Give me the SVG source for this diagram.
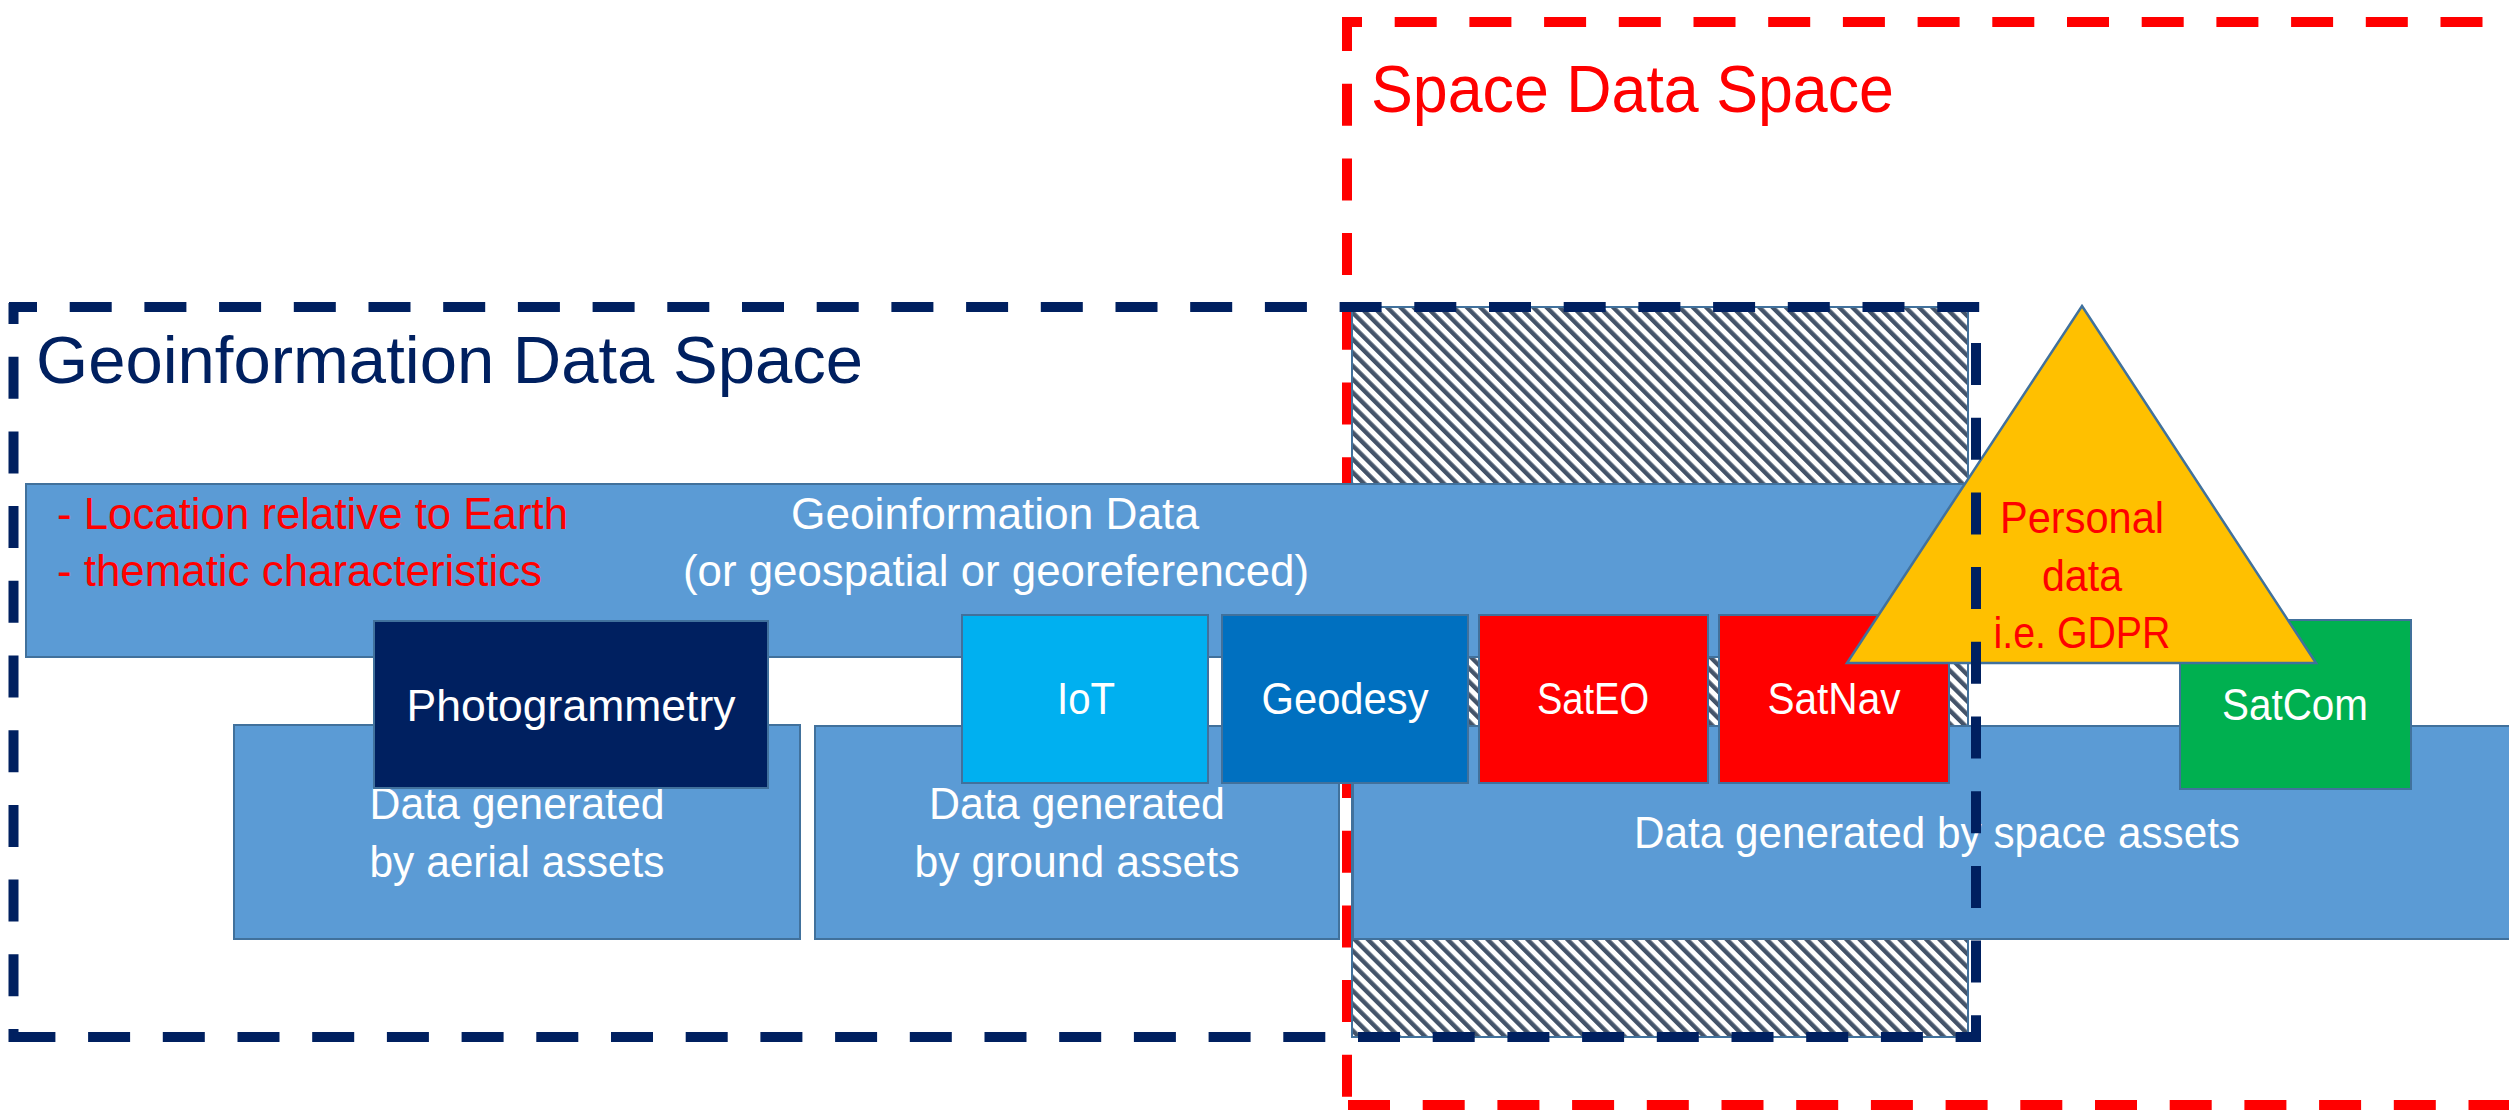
<svg xmlns="http://www.w3.org/2000/svg" width="2509" height="1110" viewBox="0 0 2509 1110">
  <defs>
    <pattern id="hatch" patternUnits="userSpaceOnUse" width="9.4" height="9.4" patternTransform="rotate(-45)">
      <rect x="0" y="0" width="9.4" height="9.4" fill="#ffffff"/>
      <rect x="0" y="0" width="4.4" height="9.4" fill="#44546A"/>
    </pattern>
  </defs>
  <style>
    .box { stroke: #41719C; stroke-width: 2; }
    .blue { fill: #5B9BD5; }
    .t { font-family: "Liberation Sans", Arial, sans-serif; font-size: 44px; fill: #ffffff; text-anchor: middle; }
    .red { fill: #FF0000; }
    .title { font-family: "Liberation Sans", Arial, sans-serif; font-size: 66px; }
    .dashR { fill: none; stroke: #FF0000; stroke-width: 10; stroke-dasharray: 42 32.7; }
    .dashN { fill: none; stroke: #002060; stroke-width: 10; stroke-dasharray: 42 32.7; }
  </style>
  <rect width="2509" height="1110" fill="#ffffff"/>

  <!-- Space Data Space frame (behind) -->
  <g id="space-data-space">
    <line class="dashR" x1="1342" y1="22" x2="2509" y2="22" stroke-dashoffset="22"/>
    <line class="dashR" x1="1347" y1="17" x2="1347" y2="1101" stroke-dashoffset="8"/>
    <line class="dashR" x1="1348" y1="1105" x2="2509" y2="1105"/>
    <text class="title" x="1371" y="112" fill="#FF0000" textLength="523" lengthAdjust="spacingAndGlyphs">Space Data Space</text>
  </g>

  <!-- overlap hatch -->
  <g id="overlap-hatch">
    <rect class="box" x="1352" y="307" width="616" height="730" fill="url(#hatch)"/>
  </g>

  <g id="geo-data">
    <rect class="box blue" x="26" y="484" width="1942" height="173"/>
    <text class="t red" x="57" y="529" style="text-anchor:start" textLength="511" lengthAdjust="spacingAndGlyphs">- Location relative to Earth</text>
    <text class="t red" x="57" y="586" style="text-anchor:start" textLength="485" lengthAdjust="spacingAndGlyphs">- thematic characteristics</text>
    <text class="t" x="995" y="529" textLength="408" lengthAdjust="spacingAndGlyphs">Geoinformation Data</text>
    <text class="t" x="996" y="586" textLength="626" lengthAdjust="spacingAndGlyphs">(or geospatial or georeferenced)</text>
  </g>

  <g id="aerial">
    <rect class="box blue" x="234" y="725" width="566" height="214"/>
    <text class="t" x="517" y="819" textLength="295" lengthAdjust="spacingAndGlyphs">Data generated</text>
    <text class="t" x="517" y="877" textLength="295" lengthAdjust="spacingAndGlyphs">by aerial assets</text>
  </g>

  <g id="ground">
    <rect class="box blue" x="815" y="726" width="524" height="213"/>
    <text class="t" x="1077" y="819" textLength="296" lengthAdjust="spacingAndGlyphs">Data generated</text>
    <text class="t" x="1077" y="877" textLength="325" lengthAdjust="spacingAndGlyphs">by ground assets</text>
  </g>

  <g id="space-assets">
    <rect class="box blue" x="1353" y="726" width="1170" height="213"/>
    <text class="t" x="1937" y="848" textLength="606" lengthAdjust="spacingAndGlyphs">Data generated by space assets</text>
  </g>

  <g id="photogrammetry">
    <rect class="box" x="374" y="621" width="394" height="167" fill="#002060"/>
    <text class="t" x="571" y="721" textLength="329" lengthAdjust="spacingAndGlyphs">Photogrammetry</text>
  </g>

  <g id="iot">
    <rect class="box" x="962" y="615" width="246" height="168" fill="#00B0F0"/>
    <text class="t" x="1086" y="714" textLength="58" lengthAdjust="spacingAndGlyphs">IoT</text>
  </g>

  <g id="geodesy">
    <rect class="box" x="1222" y="615" width="246" height="168" fill="#0070C0"/>
    <text class="t" x="1345" y="714" textLength="167" lengthAdjust="spacingAndGlyphs">Geodesy</text>
  </g>

  <g id="sateo">
    <rect class="box" x="1479" y="615" width="229" height="168" fill="#FF0000"/>
    <text class="t" x="1593" y="714" textLength="112" lengthAdjust="spacingAndGlyphs">SatEO</text>
  </g>

  <g id="satnav">
    <rect class="box" x="1719" y="615" width="230" height="168" fill="#FF0000"/>
    <text class="t" x="1834" y="714" textLength="133" lengthAdjust="spacingAndGlyphs">SatNav</text>
  </g>

  <g id="satcom">
    <rect class="box" x="2180" y="620" width="231" height="169" fill="#00B050"/>
    <text class="t" x="2295" y="720" textLength="146" lengthAdjust="spacingAndGlyphs">SatCom</text>
  </g>

  <g id="personal-data">
    <polygon points="2082,306 2316,663 1847,663" fill="#FFC000" stroke="#41719C" stroke-width="2.5"/>
    <text class="t red" x="2082" y="533" textLength="164" lengthAdjust="spacingAndGlyphs">Personal</text>
    <text class="t red" x="2082" y="591" textLength="80" lengthAdjust="spacingAndGlyphs">data</text>
    <text class="t red" x="2082" y="648" textLength="177" lengthAdjust="spacingAndGlyphs">i.e. GDPR</text>
  </g>

  <!-- Geoinformation Data Space frame (on top) -->
  <g id="geo-space">
    <line class="dashN" x1="9" y1="307" x2="1981" y2="307" stroke-dashoffset="14"/>
    <line class="dashN" x1="13.5" y1="303" x2="13.5" y2="1042" stroke-dashoffset="21"/>
    <line class="dashN" x1="1976" y1="343" x2="1976" y2="1042"/>
    <line class="dashN" x1="13.4" y1="1037" x2="1981" y2="1037"/>
    <text class="title" x="36" y="383" fill="#002060" textLength="827" lengthAdjust="spacingAndGlyphs">Geoinformation Data Space</text>
  </g>

  <g id="connectors"></g>
</svg>
